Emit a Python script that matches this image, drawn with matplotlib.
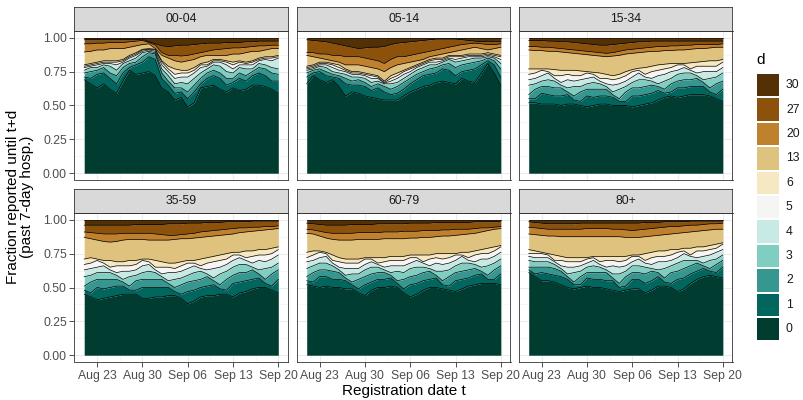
import numpy as np
import pandas as pd
import matplotlib
matplotlib.use("Agg")
import matplotlib.pyplot as plt
import matplotlib.dates as mdates
from matplotlib.patches import Rectangle

plt.rcParams['font.family'] = ['Liberation Sans', 'DejaVu Sans']

dates = pd.date_range("2020-08-21", "2020-09-20", freq="D")
delays = [0, 1, 2, 3, 4, 5, 6, 13, 20, 27, 30]
colors = ["#003c30", "#01665e", "#35978f", "#80cdc1", "#c7eae5", "#f5f5f5",
          "#f6e8c3", "#dfc27d", "#bf812d", "#8c510a", "#543005"]
age_groups = ["00-04", "05-14", "15-34", "35-59", "60-79", "80+"]
tick_dates = ["2020-08-23", "2020-08-30", "2020-09-06", "2020-09-13", "2020-09-20"]
y_ticks = [0, 0.25, 0.5, 0.75, 1.0]

# cumulative fraction reported until t+d, one row per d = 0,1,2,3,4,5,6,13,20,27
# (d = 30 is 1 by definition)
frac_00_04 = [
    [0.69,0.66,0.63,0.66,0.62,0.59,0.68,0.76,0.73,0.74,0.75,0.72,0.63,0.60,0.54,0.56,0.49,0.52,0.63,0.64,0.65,0.62,0.60,0.63,0.61,0.62,0.65,0.65,0.64,0.62,0.59],
    [0.71,0.70,0.73,0.74,0.70,0.66,0.74,0.78,0.80,0.82,0.86,0.84,0.70,0.65,0.59,0.60,0.55,0.60,0.66,0.70,0.72,0.70,0.65,0.67,0.70,0.68,0.72,0.74,0.72,0.68,0.68],
    [0.74,0.75,0.76,0.78,0.74,0.72,0.78,0.81,0.82,0.86,0.89,0.88,0.74,0.68,0.63,0.63,0.60,0.65,0.70,0.74,0.76,0.74,0.70,0.70,0.74,0.72,0.75,0.78,0.77,0.74,0.73],
    [0.76,0.78,0.78,0.80,0.79,0.76,0.81,0.83,0.85,0.89,0.90,0.89,0.77,0.72,0.66,0.67,0.66,0.70,0.74,0.77,0.80,0.79,0.75,0.74,0.78,0.77,0.77,0.81,0.80,0.78,0.77],
    [0.78,0.79,0.80,0.81,0.81,0.80,0.82,0.85,0.87,0.90,0.91,0.90,0.80,0.75,0.70,0.71,0.71,0.74,0.78,0.79,0.82,0.82,0.80,0.77,0.80,0.80,0.80,0.83,0.84,0.83,0.85],
    [0.79,0.80,0.81,0.82,0.82,0.82,0.83,0.86,0.88,0.91,0.915,0.91,0.82,0.77,0.73,0.74,0.74,0.76,0.80,0.80,0.83,0.83,0.82,0.80,0.82,0.81,0.82,0.84,0.85,0.85,0.86],
    [0.80,0.81,0.82,0.83,0.83,0.83,0.84,0.87,0.89,0.915,0.92,0.915,0.83,0.79,0.77,0.76,0.76,0.78,0.81,0.82,0.84,0.84,0.83,0.82,0.83,0.82,0.83,0.85,0.86,0.86,0.87],
    [0.895,0.90,0.91,0.91,0.92,0.92,0.92,0.93,0.94,0.95,0.955,0.92,0.87,0.85,0.83,0.82,0.83,0.84,0.86,0.87,0.87,0.87,0.87,0.88,0.88,0.89,0.90,0.90,0.91,0.92,0.92],
    [0.955,0.955,0.96,0.96,0.965,0.965,0.965,0.97,0.975,0.98,0.965,0.945,0.89,0.87,0.87,0.865,0.87,0.88,0.89,0.90,0.91,0.915,0.92,0.925,0.925,0.93,0.935,0.94,0.94,0.945,0.945],
    [0.985,0.985,0.985,0.985,0.985,0.985,0.985,0.985,0.985,0.99,0.97,0.955,0.94,0.935,0.94,0.945,0.945,0.95,0.955,0.96,0.96,0.96,0.965,0.965,0.965,0.97,0.97,0.975,0.975,0.975,0.975],
]
frac_05_14 = [
    [0.66,0.72,0.69,0.67,0.69,0.64,0.57,0.60,0.59,0.57,0.56,0.55,0.54,0.54,0.54,0.57,0.60,0.62,0.64,0.65,0.67,0.68,0.67,0.66,0.70,0.68,0.67,0.74,0.81,0.74,0.65],
    [0.71,0.74,0.75,0.72,0.71,0.70,0.66,0.65,0.65,0.64,0.61,0.63,0.60,0.58,0.59,0.62,0.66,0.69,0.72,0.73,0.74,0.77,0.76,0.72,0.75,0.76,0.77,0.80,0.83,0.80,0.71],
    [0.74,0.76,0.77,0.75,0.73,0.72,0.70,0.68,0.69,0.67,0.64,0.66,0.64,0.62,0.64,0.67,0.70,0.73,0.75,0.77,0.78,0.80,0.81,0.78,0.80,0.81,0.82,0.83,0.85,0.83,0.77],
    [0.76,0.77,0.79,0.78,0.75,0.74,0.73,0.71,0.71,0.70,0.67,0.68,0.66,0.66,0.67,0.70,0.73,0.76,0.78,0.80,0.80,0.82,0.84,0.82,0.83,0.84,0.85,0.85,0.86,0.85,0.81],
    [0.77,0.78,0.80,0.80,0.78,0.76,0.75,0.73,0.73,0.72,0.70,0.70,0.665,0.68,0.70,0.73,0.75,0.78,0.80,0.82,0.82,0.83,0.85,0.84,0.85,0.86,0.86,0.86,0.87,0.86,0.84],
    [0.78,0.79,0.81,0.81,0.80,0.78,0.76,0.74,0.74,0.73,0.72,0.71,0.67,0.70,0.72,0.75,0.77,0.79,0.81,0.83,0.84,0.84,0.86,0.86,0.86,0.87,0.87,0.87,0.88,0.87,0.86],
    [0.79,0.80,0.82,0.82,0.81,0.80,0.77,0.75,0.75,0.74,0.73,0.72,0.68,0.72,0.74,0.76,0.78,0.80,0.82,0.84,0.85,0.85,0.87,0.87,0.87,0.88,0.88,0.88,0.89,0.88,0.87],
    [0.87,0.86,0.85,0.84,0.83,0.82,0.80,0.80,0.80,0.79,0.78,0.77,0.75,0.78,0.80,0.81,0.82,0.83,0.84,0.86,0.87,0.88,0.89,0.90,0.91,0.92,0.93,0.92,0.91,0.92,0.93],
    [0.89,0.89,0.88,0.88,0.87,0.87,0.86,0.86,0.86,0.85,0.84,0.83,0.81,0.84,0.86,0.86,0.87,0.88,0.89,0.90,0.91,0.92,0.93,0.94,0.95,0.955,0.96,0.955,0.95,0.95,0.955],
    [0.985,0.98,0.975,0.97,0.96,0.95,0.94,0.93,0.92,0.925,0.93,0.93,0.935,0.95,0.96,0.965,0.97,0.975,0.98,0.985,0.99,0.99,0.99,0.99,0.985,0.98,0.975,0.97,0.975,0.97,0.97],
]
frac_15_34 = [
    [0.52,0.52,0.51,0.51,0.51,0.50,0.51,0.51,0.50,0.49,0.50,0.51,0.51,0.50,0.50,0.50,0.49,0.50,0.51,0.52,0.54,0.56,0.57,0.56,0.57,0.58,0.58,0.58,0.57,0.55,0.53],
    [0.55,0.55,0.59,0.58,0.57,0.57,0.58,0.54,0.53,0.57,0.56,0.57,0.57,0.56,0.53,0.53,0.57,0.57,0.58,0.59,0.61,0.59,0.60,0.63,0.63,0.64,0.64,0.64,0.60,0.58,0.62],
    [0.58,0.62,0.64,0.64,0.63,0.63,0.60,0.57,0.60,0.62,0.62,0.62,0.62,0.58,0.55,0.60,0.63,0.63,0.64,0.65,0.64,0.62,0.66,0.68,0.69,0.69,0.70,0.67,0.63,0.66,0.68],
    [0.65,0.66,0.68,0.69,0.68,0.65,0.63,0.64,0.64,0.66,0.67,0.66,0.64,0.60,0.62,0.64,0.67,0.69,0.69,0.68,0.66,0.68,0.70,0.73,0.74,0.74,0.72,0.69,0.70,0.71,0.74],
    [0.69,0.70,0.72,0.74,0.70,0.67,0.69,0.68,0.69,0.70,0.71,0.68,0.66,0.65,0.66,0.68,0.71,0.74,0.71,0.70,0.72,0.73,0.75,0.76,0.78,0.76,0.74,0.75,0.75,0.75,0.78],
    [0.73,0.74,0.76,0.75,0.72,0.72,0.73,0.72,0.72,0.74,0.73,0.70,0.70,0.69,0.70,0.72,0.75,0.76,0.73,0.75,0.76,0.77,0.78,0.80,0.80,0.77,0.79,0.79,0.79,0.79,0.82],
    [0.77,0.77,0.77,0.77,0.765,0.76,0.76,0.76,0.755,0.75,0.745,0.74,0.73,0.72,0.73,0.75,0.765,0.775,0.78,0.79,0.80,0.805,0.81,0.81,0.81,0.815,0.82,0.825,0.83,0.83,0.84],
    [0.91,0.905,0.905,0.90,0.90,0.895,0.89,0.885,0.88,0.875,0.87,0.865,0.86,0.865,0.87,0.88,0.885,0.89,0.895,0.90,0.90,0.905,0.905,0.91,0.91,0.915,0.92,0.92,0.925,0.93,0.93],
    [0.935,0.935,0.93,0.93,0.925,0.92,0.915,0.91,0.905,0.90,0.895,0.89,0.885,0.89,0.90,0.91,0.915,0.92,0.925,0.93,0.935,0.935,0.94,0.94,0.945,0.945,0.95,0.95,0.95,0.95,0.955],
    [0.98,0.98,0.98,0.975,0.975,0.97,0.97,0.965,0.96,0.955,0.95,0.945,0.945,0.95,0.955,0.96,0.965,0.97,0.97,0.975,0.975,0.975,0.975,0.975,0.975,0.975,0.975,0.975,0.975,0.975,0.975],
]
frac_35_59 = [
    [0.45,0.43,0.41,0.42,0.43,0.44,0.45,0.45,0.45,0.42,0.42,0.43,0.43,0.44,0.44,0.42,0.38,0.40,0.43,0.44,0.44,0.45,0.45,0.43,0.46,0.47,0.49,0.50,0.50,0.48,0.46],
    [0.48,0.46,0.50,0.49,0.50,0.51,0.51,0.48,0.48,0.50,0.50,0.50,0.50,0.50,0.47,0.45,0.47,0.48,0.50,0.51,0.52,0.49,0.48,0.53,0.54,0.55,0.56,0.57,0.53,0.51,0.56],
    [0.51,0.54,0.56,0.56,0.56,0.56,0.54,0.51,0.55,0.56,0.56,0.56,0.56,0.53,0.50,0.52,0.54,0.55,0.56,0.58,0.55,0.52,0.56,0.59,0.61,0.61,0.63,0.60,0.56,0.60,0.63],
    [0.58,0.59,0.61,0.61,0.61,0.59,0.56,0.58,0.59,0.61,0.62,0.61,0.58,0.55,0.56,0.57,0.59,0.61,0.62,0.60,0.57,0.60,0.62,0.65,0.67,0.67,0.65,0.63,0.64,0.65,0.68],
    [0.63,0.64,0.65,0.66,0.63,0.61,0.62,0.62,0.63,0.66,0.67,0.63,0.60,0.61,0.61,0.62,0.64,0.66,0.64,0.63,0.64,0.65,0.67,0.70,0.72,0.70,0.68,0.70,0.69,0.71,0.74],
    [0.67,0.68,0.70,0.68,0.65,0.66,0.66,0.66,0.67,0.70,0.69,0.65,0.65,0.65,0.64,0.66,0.68,0.68,0.66,0.68,0.69,0.70,0.71,0.74,0.74,0.72,0.73,0.74,0.74,0.75,0.78],
    [0.71,0.72,0.71,0.70,0.70,0.69,0.69,0.70,0.70,0.71,0.71,0.70,0.69,0.68,0.68,0.69,0.70,0.70,0.71,0.72,0.73,0.74,0.75,0.76,0.76,0.77,0.77,0.78,0.78,0.79,0.80],
    [0.87,0.86,0.85,0.84,0.835,0.84,0.85,0.855,0.855,0.855,0.85,0.85,0.85,0.85,0.855,0.86,0.86,0.865,0.87,0.875,0.88,0.885,0.89,0.895,0.905,0.91,0.915,0.92,0.925,0.93,0.935],
    [0.91,0.905,0.90,0.895,0.895,0.895,0.90,0.90,0.90,0.90,0.90,0.895,0.89,0.885,0.885,0.89,0.895,0.90,0.91,0.915,0.92,0.925,0.93,0.935,0.94,0.94,0.945,0.945,0.95,0.95,0.955],
    [0.96,0.96,0.96,0.96,0.96,0.96,0.96,0.96,0.965,0.965,0.965,0.965,0.965,0.97,0.97,0.97,0.975,0.975,0.975,0.98,0.98,0.98,0.985,0.985,0.985,0.985,0.99,0.99,0.99,0.99,0.99],
]
frac_60_79 = [
    [0.52,0.51,0.50,0.51,0.50,0.50,0.49,0.49,0.46,0.44,0.48,0.50,0.50,0.51,0.50,0.46,0.43,0.45,0.48,0.50,0.50,0.49,0.48,0.47,0.49,0.51,0.52,0.53,0.53,0.53,0.52],
    [0.55,0.54,0.58,0.58,0.56,0.56,0.55,0.52,0.49,0.52,0.54,0.56,0.56,0.57,0.53,0.49,0.52,0.53,0.55,0.56,0.57,0.52,0.51,0.55,0.56,0.57,0.59,0.60,0.56,0.56,0.60],
    [0.58,0.61,0.63,0.63,0.62,0.61,0.57,0.54,0.56,0.58,0.60,0.61,0.61,0.59,0.55,0.56,0.58,0.59,0.61,0.62,0.59,0.55,0.58,0.61,0.62,0.63,0.64,0.62,0.59,0.63,0.66],
    [0.64,0.66,0.68,0.68,0.66,0.63,0.59,0.60,0.60,0.63,0.65,0.65,0.63,0.61,0.62,0.61,0.64,0.65,0.65,0.64,0.62,0.62,0.63,0.66,0.68,0.68,0.67,0.65,0.66,0.68,0.71],
    [0.69,0.70,0.72,0.73,0.68,0.65,0.64,0.64,0.64,0.67,0.69,0.67,0.65,0.66,0.66,0.66,0.68,0.70,0.68,0.66,0.68,0.67,0.68,0.70,0.73,0.70,0.69,0.71,0.71,0.73,0.76],
    [0.72,0.74,0.76,0.75,0.70,0.69,0.68,0.68,0.68,0.71,0.71,0.68,0.69,0.70,0.70,0.70,0.72,0.72,0.69,0.71,0.72,0.71,0.72,0.74,0.74,0.72,0.74,0.75,0.75,0.77,0.80],
    [0.76,0.77,0.77,0.76,0.74,0.72,0.71,0.71,0.71,0.72,0.72,0.72,0.72,0.73,0.73,0.73,0.74,0.74,0.74,0.74,0.75,0.75,0.75,0.75,0.76,0.76,0.77,0.78,0.79,0.80,0.81],
    [0.90,0.895,0.88,0.865,0.855,0.85,0.85,0.85,0.855,0.855,0.855,0.855,0.86,0.86,0.86,0.86,0.865,0.865,0.87,0.87,0.875,0.88,0.88,0.885,0.89,0.895,0.90,0.91,0.92,0.93,0.935],
    [0.93,0.925,0.915,0.905,0.90,0.90,0.90,0.90,0.905,0.905,0.905,0.905,0.91,0.91,0.91,0.915,0.915,0.915,0.92,0.92,0.92,0.925,0.925,0.93,0.93,0.93,0.935,0.94,0.94,0.945,0.95],
    [0.975,0.97,0.965,0.96,0.96,0.96,0.96,0.965,0.965,0.965,0.965,0.97,0.97,0.97,0.97,0.97,0.975,0.975,0.975,0.975,0.98,0.98,0.98,0.98,0.98,0.98,0.985,0.985,0.985,0.985,0.99],
]
frac_80_plus = [
    [0.61,0.58,0.55,0.55,0.54,0.52,0.50,0.49,0.50,0.51,0.50,0.50,0.49,0.48,0.47,0.48,0.49,0.49,0.46,0.48,0.51,0.51,0.50,0.47,0.49,0.53,0.56,0.58,0.59,0.58,0.57],
    [0.63,0.60,0.61,0.60,0.59,0.58,0.56,0.52,0.52,0.57,0.56,0.56,0.55,0.55,0.50,0.51,0.56,0.56,0.53,0.55,0.58,0.54,0.53,0.56,0.57,0.60,0.62,0.64,0.62,0.61,0.65],
    [0.65,0.65,0.65,0.65,0.64,0.62,0.58,0.54,0.58,0.61,0.61,0.61,0.61,0.57,0.53,0.58,0.61,0.61,0.60,0.62,0.61,0.57,0.61,0.62,0.64,0.66,0.68,0.66,0.64,0.67,0.70],
    [0.70,0.69,0.69,0.69,0.67,0.64,0.60,0.61,0.62,0.65,0.66,0.65,0.63,0.60,0.60,0.62,0.66,0.66,0.65,0.64,0.63,0.64,0.66,0.68,0.70,0.70,0.70,0.68,0.70,0.71,0.74],
    [0.73,0.72,0.72,0.72,0.69,0.66,0.65,0.65,0.66,0.68,0.70,0.67,0.65,0.66,0.65,0.66,0.69,0.71,0.68,0.67,0.69,0.69,0.70,0.72,0.75,0.73,0.72,0.73,0.74,0.76,0.78],
    [0.75,0.75,0.75,0.74,0.70,0.70,0.69,0.69,0.69,0.71,0.72,0.69,0.70,0.70,0.69,0.70,0.73,0.73,0.70,0.72,0.73,0.73,0.74,0.76,0.77,0.74,0.77,0.77,0.78,0.79,0.82],
    [0.78,0.77,0.76,0.75,0.74,0.73,0.72,0.72,0.72,0.72,0.73,0.73,0.73,0.73,0.73,0.73,0.74,0.74,0.75,0.76,0.77,0.77,0.78,0.78,0.79,0.79,0.80,0.80,0.81,0.82,0.83],
    [0.895,0.89,0.885,0.88,0.88,0.875,0.875,0.875,0.875,0.875,0.875,0.875,0.875,0.875,0.875,0.87,0.87,0.87,0.875,0.88,0.885,0.89,0.895,0.90,0.905,0.91,0.915,0.92,0.925,0.93,0.93],
    [0.945,0.94,0.935,0.93,0.93,0.93,0.93,0.93,0.93,0.935,0.935,0.935,0.935,0.93,0.93,0.925,0.92,0.925,0.93,0.935,0.94,0.945,0.95,0.95,0.955,0.96,0.96,0.965,0.97,0.97,0.975],
    [0.985,0.98,0.975,0.97,0.97,0.97,0.97,0.97,0.975,0.975,0.975,0.975,0.975,0.975,0.975,0.975,0.975,0.975,0.98,0.98,0.98,0.985,0.985,0.985,0.985,0.99,0.99,0.99,0.99,0.99,0.99],
]
panel_data = [frac_00_04, frac_05_14, frac_15_34, frac_35_59, frac_60_79, frac_80_plus]

W, H = 804, 400


def px_axes(fig, x0, y0, x1, y1):
    # axes from pixel box (top-left origin)
    return fig.add_axes([x0 / W, 1 - y1 / H, (x1 - x0) / W, (y1 - y0) / H])


fig = plt.figure(figsize=(W / 100, H / 100), dpi=100)
fig.patch.set_facecolor("white")

cols = [(74.5, 288), (297, 510.5), (519, 732.5)]
rows = [(7, 31, 180), (189, 213, 362)]
one_day = pd.Timedelta(days=1)
majors = pd.to_datetime(tick_dates)
minors = majors[:-1] + pd.Timedelta(hours=84)

for i, (name, frac) in enumerate(zip(age_groups, panel_data)):
    r, c = divmod(i, 3)
    x0, x1 = cols[c]
    s0, p0, p1 = rows[r]
    ax = px_axes(fig, x0, p0, x1, p1)

    cum = np.vstack([np.array(frac), np.ones(len(dates))])
    lower = np.zeros(len(dates))
    for k in range(len(delays)):
        ax.fill_between(dates, lower, cum[k], color=colors[k], lw=0, zorder=2)
        lower = cum[k]
    for k in range(len(delays)):
        ax.plot(dates, cum[k], color="black", lw=0.5, zorder=3)

    ax.set_xlim(dates[0] - 1.5 * one_day, dates[-1] + 1.5 * one_day)
    ax.set_ylim(-0.05, 1.05)
    ax.set_xticks(majors)
    ax.set_xticks(minors, minor=True)
    ax.set_yticks(y_ticks)
    ax.set_yticks([0.125, 0.375, 0.625, 0.875], minor=True)
    ax.xaxis.set_major_formatter(mdates.DateFormatter("%b %d"))
    ax.yaxis.set_major_formatter(plt.FuncFormatter(lambda v, p: "%.2f" % v))
    ax.grid(which="major", color="#EBEBEB", lw=0.75, zorder=0)
    ax.grid(which="minor", color="#F2F2F2", lw=0.4, zorder=0)
    ax.set_axisbelow(True)
    for sp in ax.spines.values():
        sp.set_color("#333333")
        sp.set_linewidth(0.6)
    ax.tick_params(which="major", length=3.5, width=0.6, color="#333333",
                   labelsize=8.8, labelcolor="#4D4D4D", pad=2)
    ax.tick_params(which="minor", length=0)
    if c > 0:
        ax.tick_params(left=False, labelleft=False)
    if r == 0:
        ax.tick_params(bottom=False, labelbottom=False)

    strip = px_axes(fig, x0, s0, x1, p0)
    strip.set_facecolor("#D9D9D9")
    strip.set_xticks([])
    strip.set_yticks([])
    for sp in strip.spines.values():
        sp.set_color("#333333")
        sp.set_linewidth(0.6)
    strip.text(0.5, 0.5, name, ha="center", va="center", fontsize=8.8,
               color="#1A1A1A", transform=strip.transAxes)

# axis titles
fig.text(403.5 / W, 1 - 391 / H, "Registration date t", ha="center", va="center",
         fontsize=11)
fig.text(20 / W, 1 - 196.5 / H, "Fraction reported until t+d\n(past 7-day hosp.)",
         ha="center", va="center", rotation=90, fontsize=11, linespacing=1.0,
         multialignment="center")

# legend
leg = fig.add_axes([0, 0, 1, 1], facecolor="none")
leg.set_xlim(0, W)
leg.set_ylim(H, 0)
leg.axis("off")
leg.text(756, 60, "d", ha="left", va="center", fontsize=11)
for j, k in enumerate(reversed(range(len(delays)))):
    top = 74 + 24.4 * j
    leg.add_patch(Rectangle((757, top), 22, 22.4, facecolor=colors[k], edgecolor="none"))
    leg.text(786, top + 11.2, str(delays[k]), ha="left", va="center",
             fontsize=8.8, color="#1A1A1A")

fig.savefig("out.png", dpi=100)
